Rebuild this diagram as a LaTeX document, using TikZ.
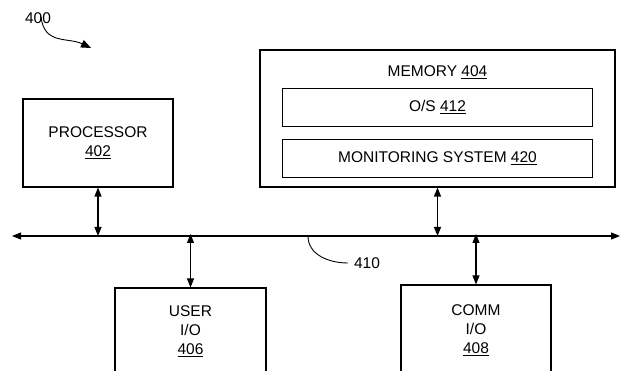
\documentclass[tikz,border=0pt]{standalone}
\usepackage{fontspec}
\setmainfont{Liberation Sans}
\usepackage{tikz}
\usetikzlibrary{
  positioning,
  arrows.meta
}

\begin{document}
\begin{tikzpicture}[
  x=1pt, y=-1pt,
  font=\fontsize{15.5}{19}\selectfont,
  unit/.style={
    draw,
    line width=1.1pt,
    align=center,
    inner sep=0pt
  },
  part/.style={
    draw,
    line width=1.1pt,
    minimum width=310pt,
    minimum height=38pt,
    inner sep=0pt
  },
  link/.style={{Triangle[length=9pt,width=7pt]}-{Triangle[length=9pt,width=7pt]}, line width=1.1pt},
  tag/.style={inner sep=0pt}
]
\clip (0,0) rectangle (621,371);

% Units
\node[unit, minimum width=150pt, minimum height=88pt] (proc) at (98,143) {PROCESSOR\\\underline{402}};
\node[unit, minimum width=355pt, minimum height=137pt] (mem) at (437.5,118.5) {};
\node[tag] (memlabel) at (437.5,72) {MEMORY \underline{404}};
\node[part, below=9pt of memlabel] (os) {O/S \underline{412}};
\node[part, below=12pt of os] (mon) {MONITORING SYSTEM \underline{420}};
\node[unit, minimum width=151pt, minimum height=86pt] (user) at (190.5,331) {USER\\I/O\\\underline{406}};
\node[unit, minimum width=150pt, minimum height=90pt] (comm) at (476,330) {COMM\\I/O\\\underline{408}};

% Bus
\coordinate (busL) at (12,236);
\coordinate (busR) at (620,236);
\draw[link] (busL) -- (busR);

% Arrows
\draw[link] (proc.south) -- (proc.south |- busL);
\draw[link] (mem.south) -- (mem.south |- busL);
\draw[link] ([yshift=2pt]user.north |- busL) -- (user.north);
\draw[link] ([yshift=2pt]comm.north |- busL) -- (comm.north);

% Labels
\node[tag] (l410) at (367,263) {410};
\coordinate (c410) at (308,236);
\draw[line width=0.9pt] (c410) to[out=-90, in=180] ([xshift=-6pt]l410.west);
\node[tag] (l400) at (38,18) {400};
\draw[line width=0.9pt, -{Triangle[length=10pt,width=8pt]}] ([xshift=3pt,yshift=7pt]l400.south) .. controls (44,45) and (68,37) .. (91,48);

\end{tikzpicture}
\end{document}
